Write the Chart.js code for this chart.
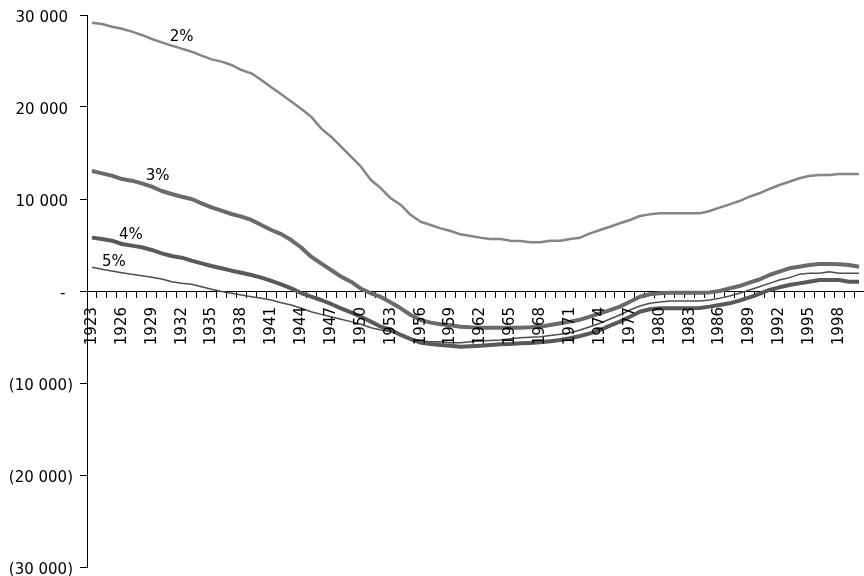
<!DOCTYPE html>
<html>
<head>
<meta charset="utf-8">
<script src="https://cdn.jsdelivr.net/npm/chart.js@4/dist/chart.umd.min.js"></script>
<style>
  html, body { margin: 0; padding: 0; background: #ffffff; }
  #wrap { width: 864px; height: 576px; position: relative; }
</style>
</head>
<body>
<div id="wrap"><canvas id="c" width="864" height="576"></canvas></div>
<script>
const years = [];
for (let y = 1923; y <= 2000; y++) years.push(String(y));

const rate2 = [29160,29020,28730,28510,28190,27830,27390,27030,26670,26340,
  26010,25580,25180,24930,24570,24020,23660,22930,22140,21380,
  20600,19800,18950,17680,16770,15680,14600,13510,12070,11160,
  10080,9350,8260,7530,7170,6810,6520,6160,5980,5800,
  5650,5650,5470,5430,5290,5290,5470,5470,5650,5800,
  6270,6630,6990,7360,7720,8150,8330,8440,8440,8440,
  8440,8440,8700,9060,9420,9780,10250,10620,11090,11520,
  11880,12250,12500,12610,12610,12720,12720,12720];

const rate3 = [13040,12790,12540,12170,11990,11700,11340,10870,10540,10250,
  10000,9530,9090,8730,8370,8080,7720,7170,6630,6180,
  5540,4730,3730,3010,2280,1560,1010,250,-250,-650,
  -1250,-1880,-2610,-3150,-3440,-3620,-3730,-3880,-3950,-3990,
  -3990,-3990,-3990,-3990,-3950,-3880,-3700,-3510,-3330,-3120,
  -2790,-2430,-2070,-1700,-1160,-620,-360,-250,-180,-180,
  -180,-180,-150,0,290,540,900,1250,1740,2100,
  2470,2640,2830,2930,2930,2900,2830,2640];

const rate4 = [5800,5650,5470,5110,4930,4750,4460,4090,3800,3620,
  3300,3010,2720,2470,2210,1990,1740,1450,1090,730,
  290,-220,-620,-980,-1410,-1880,-2320,-2790,-3330,-3880,
  -4240,-4780,-5220,-5620,-5760,-5870,-5940,-6050,-6000,-5940,
  -5870,-5800,-5750,-5690,-5640,-5580,-5450,-5330,-5140,-4890,
  -4600,-4240,-3770,-3330,-2790,-2250,-1990,-1880,-1880,-1880,
  -1880,-1850,-1700,-1520,-1340,-1050,-700,-300,110,400,
  650,830,1010,1200,1200,1200,1010,1010];

const rate5 = [2570,2360,2170,1990,1810,1670,1490,1300,1010,830,
  730,470,200,-50,-250,-430,-620,-800,-980,-1270,
  -1520,-1880,-2250,-2540,-2790,-3080,-3330,-3620,-3990,-4240,
  -4420,-4780,-5140,-5430,-5510,-5510,-5620,-5620,-5520,-5430,
  -5380,-5330,-5200,-5070,-5020,-4960,-4830,-4710,-4530,-4240,
  -3880,-3510,-3040,-2610,-2070,-1630,-1340,-1200,-1090,-1090,
  -1090,-1090,-980,-800,-540,-250,110,470,830,1200,
  1450,1810,1920,1920,2100,1920,1920,1920];

const seriesNames = ['2%', '3%', '4%', '5%'];
const yTicks = [-30000, -20000, -10000, 0, 10000, 20000, 30000];
const yearLabelStep = 3;

// accounting-style labels: thousands separated by spaces, negatives in parentheses, zero as a dash
function fmtY(v) {
  if (v === 0) return '-\u2002';
  const s = Math.abs(v).toString().replace(/\B(?=(\d{3})+(?!\d))/g, ' ');
  return v < 0 ? '(' + s + ')' : s + '\u2004';
}

// series label anchors in data coordinates (category index, value)
const labelAnchors = [
  { text: seriesNames[0], idx: 9.0, val: 27600 },
  { text: seriesNames[1], idx: 6.6, val: 12500 },
  { text: seriesNames[2], idx: 3.9, val: 6100 },
  { text: seriesNames[3], idx: 2.2, val: 3150 }
];

const seriesLabels = {
  id: 'seriesLabels',
  afterDatasetsDraw(chart) {
    const ctx = chart.ctx, xs = chart.scales.x, ys = chart.scales.y;
    ctx.save();
    ctx.font = '15px "DejaVu Sans"';
    ctx.fillStyle = '#000000';
    ctx.textAlign = 'center';
    ctx.textBaseline = 'middle';
    labelAnchors.forEach(a => {
      ctx.fillText(a.text, xs.getPixelForValue(a.idx), ys.getPixelForValue(a.val));
    });
    ctx.restore();
  }
};

// vertical year labels hanging below the zero-crossing category axis
const yearLabels = {
  id: 'yearLabels',
  afterDraw(chart) {
    const ctx = chart.ctx, xs = chart.scales.x, ys = chart.scales.y;
    const y0 = ys.getPixelForValue(0) + 16;
    ctx.save();
    ctx.font = '15px "DejaVu Sans"';
    ctx.fillStyle = '#000000';
    ctx.textAlign = 'right';
    ctx.textBaseline = 'middle';
    years.forEach((lab, i) => {
      if (i % yearLabelStep !== 0) return;
      ctx.save();
      ctx.translate(xs.getPixelForValue(i), y0);
      ctx.rotate(-Math.PI / 2);
      ctx.fillText(lab, 0, 0);
      ctx.restore();
    });
    ctx.restore();
  }
};

Chart.defaults.font.family = '"DejaVu Sans"';
Chart.defaults.font.size = 15;
Chart.defaults.color = '#000000';

new Chart(document.getElementById('c'), {
  type: 'line',
  data: {
    labels: years,
    datasets: [
      { label: seriesNames[0], data: rate2, borderColor: '#858585', borderWidth: 2.5 },
      { label: seriesNames[1], data: rate3, borderColor: '#6a6a6a', borderWidth: 4 },
      { label: seriesNames[2], data: rate4, borderColor: '#595959', borderWidth: 4 },
      { label: seriesNames[3], data: rate5, borderColor: '#4d4d4d', borderWidth: 1.5 }
    ]
  },
  options: {
    responsive: false,
    animation: false,
    layout: { padding: { top: 15, bottom: 9, left: 0, right: 0 } },
    elements: {
      point: { radius: 0, hoverRadius: 0 },
      line: { tension: 0, borderJoinStyle: 'round', borderCapStyle: 'butt', fill: false }
    },
    plugins: { legend: { display: false }, tooltip: { enabled: false } },
    scales: {
      x: {
        type: 'category',
        position: { y: 0 },
        offset: true,
        grid: {
          display: true, drawOnChartArea: false, drawTicks: true,
          tickLength: 6, color: '#000000', lineWidth: 1, offset: true
        },
        border: { display: true, color: '#000000', width: 1 },
        ticks: { display: false, autoSkip: false },
        afterFit: s => { s.paddingLeft = 0; s.paddingRight = 0; }
      },
      y: {
        type: 'linear',
        position: 'left',
        min: -30000,
        max: 30000,
        afterBuildTicks: s => { s.ticks = yTicks.map(v => ({ value: v })); },
        grid: { display: true, drawOnChartArea: false, drawTicks: true, tickLength: 7, color: '#000000', lineWidth: 1 },
        border: { display: true, color: '#000000', width: 1 },
        ticks: { padding: 7, labelOffset: 3, font: { size: 15 }, color: '#000000', callback: v => fmtY(v) },
        afterFit: s => { s.width = 87; s.paddingTop = 0; s.paddingBottom = 0; }
      }
    }
  },
  plugins: [seriesLabels, yearLabels]
});
</script>
</body>
</html>
